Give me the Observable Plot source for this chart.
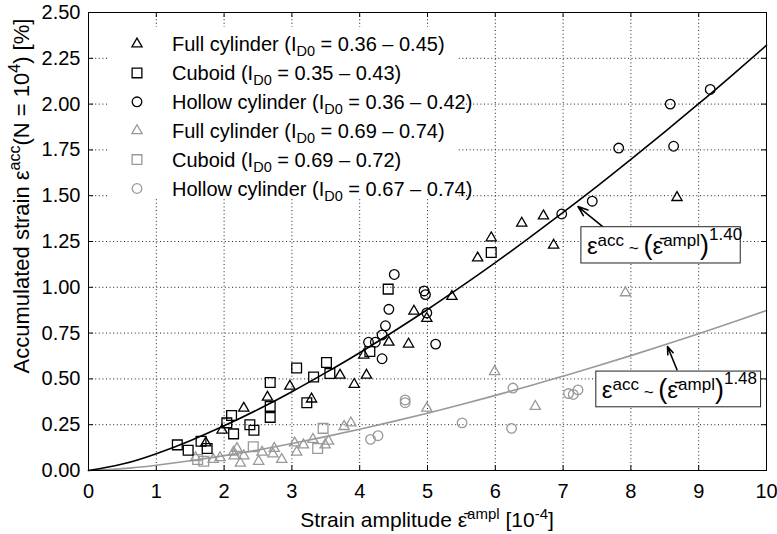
<!DOCTYPE html>
<html><head><meta charset="utf-8">
<script src="https://cdn.jsdelivr.net/npm/d3@7"></script>
<script src="https://cdn.jsdelivr.net/npm/@observablehq/plot@0.6"></script>
<style>
body{margin:0;background:#fff;font-family:"Liberation Sans",Arial,sans-serif;}
#wrap{position:relative;width:777px;height:534px;overflow:hidden;}
</style></head><body><div id="wrap"></div>
<script>
// ---- data ----
const xTicks = [0,1,2,3,4,5,6,7,8,9,10];
const yTicks = [0,0.25,0.5,0.75,1,1.25,1.5,1.75,2,2.25,2.5];

// dense samples (I_D0 = 0.35 - 0.45), black
const fullDense = [[1.73,0.15],[1.97,0.22],[2.29,0.34],[2.64,0.40],[2.97,0.46],[3.29,0.39],[3.71,0.52],[3.92,0.47],[4.06,0.63],[4.10,0.52],[4.43,0.70],[4.72,0.69],[4.80,0.87],[4.99,0.83],[5.36,0.95],[5.74,1.16],[5.94,1.27],[6.39,1.35],[6.71,1.39],[6.86,1.23],[8.68,1.49]];
const cuboidDense = [[1.31,0.14],[1.47,0.11],[1.66,0.16],[1.75,0.12],[2.04,0.26],[2.11,0.30],[2.14,0.20],[2.38,0.25],[2.44,0.22],[2.68,0.48],[2.68,0.35],[2.68,0.29],[3.07,0.56],[3.22,0.37],[3.32,0.51],[3.51,0.59],[3.56,0.53],[4.15,0.65],[4.42,0.99],[5.94,1.19]];
const hollowDense = [[4.13,0.70],[4.23,0.70],[4.33,0.74],[4.33,0.61],[4.38,0.79],[4.43,0.88],[4.51,1.07],[4.95,0.98],[4.97,0.96],[4.99,0.86],[5.12,0.69],[6.98,1.40],[7.43,1.47],[7.82,1.76],[8.58,2.00],[8.63,1.77],[9.17,2.08]];

// medium dense samples (I_D0 = 0.67 - 0.74), gray
const fullLoose = [[1.58,0.07],[1.84,0.06],[1.94,0.07],[2.14,0.10],[2.19,0.12],[2.15,0.08],[2.24,0.04],[2.29,0.08],[2.51,0.05],[2.56,0.10],[2.72,0.09],[2.74,0.12],[2.85,0.06],[3.04,0.15],[3.07,0.10],[3.17,0.14],[3.31,0.17],[3.49,0.14],[3.54,0.16],[3.77,0.24],[3.87,0.26],[4.99,0.34],[5.99,0.54],[6.59,0.35],[7.92,0.97]];
const cuboidLoose = [[1.61,0.06],[1.70,0.05],[2.43,0.13],[3.38,0.12],[3.46,0.23]];
const hollowLoose = [[4.16,0.17],[4.27,0.19],[4.67,0.385],[4.67,0.37],[5.51,0.26],[6.24,0.23],[6.26,0.45],[7.08,0.42],[7.15,0.415],[7.22,0.44]];

// fitted curves
const curveX = [0,0.5,1,1.5,2,2.5,3,3.5,4,4.5,5,5.5,6,6.5,7,7.5,8,8.5,9,9.5,10];
const curveDenseY = [0,0.035,0.092,0.163,0.244,0.333,0.430,0.534,0.643,0.759,0.879,1.005,1.135,1.270,1.409,1.551,1.698,1.849,2.002,2.160,2.321];
const curveLooseY = [0,0.010,0.029,0.053,0.081,0.112,0.147,0.185,0.225,0.268,0.313,0.360,0.410,0.461,0.515,0.570,0.627,0.686,0.747,0.809,0.873];

const legendLabels = [
  ["Full cylinder (I","D0"," = 0.36 – 0.45)"],
  ["Cuboid (I","D0"," = 0.35 – 0.43)"],
  ["Hollow cylinder (I","D0"," = 0.36 – 0.42)"],
  ["Full cylinder (I","D0"," = 0.69 – 0.74)"],
  ["Cuboid (I","D0"," = 0.69 – 0.72)"],
  ["Hollow cylinder (I","D0"," = 0.67 – 0.74)"]
];
// annotation boxes: [left, top, right, bottom] in data units, arrow [x1,y1,x2,y2], exponent
const annotBoxes = [[7.27,1.328,9.62,1.13],[7.49,0.54,9.92,0.345]];
const annotArrows = [[7.58,1.332,7.22,1.441],[8.68,0.55,8.54,0.677]];
const annotExp = ["1.40","1.48"];

// ---- chart ----
const BLACK = "#000", GRAY = "#999";
const FONT = "Liberation Sans, Arial, Helvetica, sans-serif";
const pairs = (xs, ys) => xs.map((x,i)=>[x, ys[i]]);
const dots = (data, symbol, r, color) => Plot.dot(data, {x:d=>d[0], y:d=>d[1], symbol, r, stroke:color, strokeWidth:1.3, fill:"none"});

const chart = Plot.plot({
  width:777, height:534,
  marginLeft:88, marginRight:11, marginTop:12, marginBottom:64,
  style:{fontFamily:FONT, fontSize:"20px", background:"#fff", color:"#000", overflow:"visible"},
  x:{domain:[0,10], ticks:xTicks, tickSize:0, tickPadding:13, tickFormat:d=>String(d), label:null},
  y:{domain:[0,2.5], ticks:yTicks, tickSize:0, tickPadding:8, tickFormat:d=>d.toFixed(2), label:null},
  marks:[
    Plot.ruleX(xTicks.slice(1,-1), {x:d=>d, stroke:"#222", strokeWidth:1, strokeDasharray:"1,2.6"}),
    Plot.ruleY(yTicks.slice(1,-1), {y:d=>d, stroke:"#222", strokeWidth:1, strokeDasharray:"1,2.6"}),
    Plot.ruleX(xTicks, {x:d=>d, y1:0, y2:0.027, stroke:"#000"}),
    Plot.ruleX(xTicks, {x:d=>d, y1:2.473, y2:2.5, stroke:"#000"}),
    Plot.ruleY(yTicks, {y:d=>d, x1:0, x2:0.074, stroke:"#000"}),
    Plot.ruleY(yTicks, {y:d=>d, x1:9.926, x2:10, stroke:"#000"}),
    Plot.line(pairs(curveX, curveLooseY), {x:d=>d[0], y:d=>d[1], stroke:GRAY, strokeWidth:1.6, curve:"natural"}),
    Plot.line(pairs(curveX, curveDenseY), {x:d=>d[0], y:d=>d[1], stroke:BLACK, strokeWidth:1.6, curve:"natural"}),
    dots(fullLoose, "triangle", 3.8, GRAY),
    dots(cuboidLoose, "square", 5.5, GRAY),
    dots(hollowLoose, "circle", 4.8, GRAY),
    dots(fullDense, "triangle", 3.8, BLACK),
    dots(cuboidDense, "square", 5.5, BLACK),
    dots(hollowDense, "circle", 4.8, BLACK),
    Plot.arrow(annotArrows, {x1:d=>d[0], y1:d=>d[1], x2:d=>d[2], y2:d=>d[3], stroke:"#000", strokeWidth:1.6, headLength:11, headAngle:40}),
    Plot.rect(annotBoxes, {x1:d=>d[0], y1:d=>d[1], x2:d=>d[2], y2:d=>d[3], fill:"#fff", stroke:"#222", strokeWidth:1}),
    Plot.frame({stroke:"#000", strokeWidth:1})
  ]
});
document.getElementById("wrap").appendChild(chart);

const svg = d3.select(chart);
const sx = chart.scale("x"), sy = chart.scale("y");

function rich(g, x, y, parts, attrs={}) {
  const t = g.append("text").attr("x", x).attr("y", y).attr("font-family", FONT)
    .attr("fill", "#000").attr("text-anchor", "start");
  for (const k in attrs) t.attr(k, attrs[k]);
  for (const p of parts) {
    const s = t.append("tspan").text(p.t).attr("font-size", p.s);
    if (p.dy) s.attr("dy", p.dy);
    if (p.dx) s.attr("dx", p.dx);
  }
  return t;
}

// legend
const lg = svg.append("g");
lg.append("rect").attr("x",108).attr("y",27).attr("width",350).attr("height",172)
  .attr("fill","#fff").attr("stroke","none");
const legendSymbols = [d3.symbolTriangle, d3.symbolSquare, d3.symbolCircle];
const legendR = [3.8, 5.5, 4.8];
legendLabels.forEach((lab, i) => {
  const cy = 44 + i*28.9;
  const color = i < 3 ? BLACK : GRAY;
  const k = i % 3;
  lg.append("path").attr("d", d3.symbol(legendSymbols[k], Math.PI*legendR[k]*legendR[k])())
    .attr("transform", `translate(137,${cy})`).attr("fill","none").attr("stroke",color).attr("stroke-width",1.3);
  rich(lg, 172, cy+7, [{t:lab[0], s:20},{t:lab[1], s:14.5, dy:5},{t:lab[2], s:20, dy:-5}]);
});

// annotation texts
annotBoxes.forEach((b, i) => {
  const x = sx.apply(b[0]) + 6, y = sy.apply(b[3]) - 9;
  rich(svg, x, y, [
    {t:"ε", s:24},
    {t:"acc", s:17, dy:-8},
    {t:" ~ ", s:17, dy:8},
    {t:"(", s:27},
    {t:"ε\u0304", s:24},
    {t:"ampl", s:17, dy:-8},
    {t:")", s:27, dy:8},
    {t:annotExp[i], s:17, dy:-14}
  ]);
});

// axis titles
rich(svg, 427, 527, [
  {t:"Strain amplitude ε\u0304", s:21},
  {t:"ampl", s:15, dy:-8},
  {t:" [10", s:21, dy:8},
  {t:"-4", s:15, dy:-8},
  {t:"]", s:21, dy:8}
], {"text-anchor":"middle"});
rich(svg, 0, 0, [
  {t:"Accumulated strain ε", s:22},
  {t:"acc", s:16, dy:-9},
  {t:"(N = 10", s:22, dy:9},
  {t:"4", s:16, dy:-9},
  {t:") [%]", s:22, dy:9}
], {"text-anchor":"middle", transform:"translate(29,196) rotate(-90)"});
</script></body></html>
